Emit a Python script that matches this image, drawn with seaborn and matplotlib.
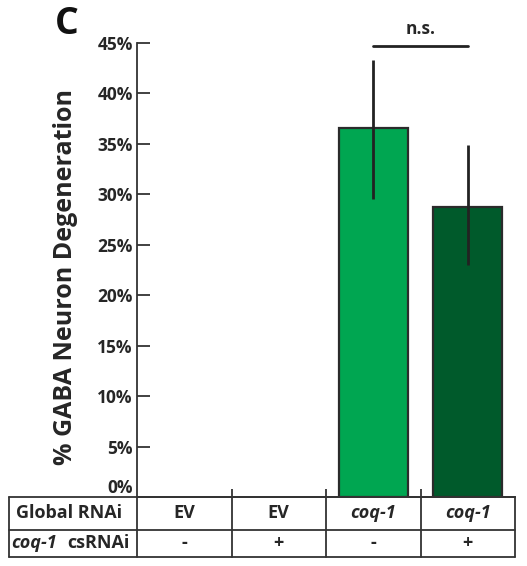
import matplotlib
matplotlib.use("Agg")
import matplotlib.pyplot as plt
import seaborn as sns
import pandas as pd

# ---- data ----
global_rnai = ["EV", "EV", "coq-1", "coq-1"]
global_italic = [False, False, True, True]
cs_rnai = ["-", "+", "-", "+"]
degeneration = [0.0, 0.0, 36.6, 28.7]
err_low = [0.0, 0.0, 29.5, 23.0]
err_high = [0.0, 0.0, 43.3, 34.9]
bar_colors = ["#00A651", "#00A651", "#00A651", "#005A2B"]
yticks = [0, 5, 10, 15, 20, 25, 30, 35, 40, 45]
ytick_labels = [f"{t}%" for t in yticks]
ns_pair = (2, 3)
ns_y = 44.7

TXT = "#262626"

sns.set_theme(style="white")
plt.rcParams['font.family'] = ['Open Sans', 'DejaVu Sans']
plt.rcParams['font.weight'] = 'bold'
plt.rcParams['text.color'] = TXT

fig = plt.figure(figsize=(5.27, 5.66), dpi=100)
W, H = 527, 566
ax = fig.add_axes([137 / W, 1 - 497 / H, 378 / W, 454 / H])

df = pd.DataFrame({"group": [f"g{i}" for i in range(len(degeneration))],
                   "value": degeneration})
sns.barplot(data=df, x="group", y="value", hue="group", palette=bar_colors,
            width=0.73, edgecolor="#2b2b2b", linewidth=1.6, errorbar=None,
            legend=False, ax=ax, saturation=1)
for p in ax.patches:
    if p.get_height() == 0:
        p.set_visible(False)

# error bars for non-zero bars
xs = [i for i, v in enumerate(degeneration) if v > 0]
ys = [degeneration[i] for i in xs]
lo = [degeneration[i] - err_low[i] for i in xs]
hi = [err_high[i] - degeneration[i] for i in xs]
ax.errorbar(xs, ys, yerr=[lo, hi], fmt='none', ecolor="#222222",
            elinewidth=2.0, capsize=0, zorder=5)

ax.set_xlim(-0.5, len(degeneration) - 0.5)
ax.set_ylim(0, 45)
ax.set_yticks(yticks)
ax.set_yticklabels(ytick_labels, fontsize=12.5, fontweight='bold', color=TXT)
ax.get_yticklabels()[0].set_verticalalignment('bottom')
ax.tick_params(axis='y', direction='in', length=9, width=1.3, color="#333333", pad=3, left=True)
ax.set_xticks([])
ax.set_xticks([i + 0.5 for i in range(len(degeneration) - 1)], minor=True)
ax.tick_params(axis='x', which='minor', direction='in', length=6, width=1.3,
               color="#333333", bottom=True)
ax.set_xlabel("")
for s in ["top", "right"]:
    ax.spines[s].set_visible(False)
for s in ["left", "bottom"]:
    ax.spines[s].set_color("#333333")
    ax.spines[s].set_linewidth(1.3)

ax.set_ylabel("% GABA Neuron Degeneration", fontsize=18, fontweight='bold', color=TXT)
ax.yaxis.set_label_coords(-0.155, 0.485)

# significance bracket
ax.plot(list(ns_pair), [ns_y, ns_y], color="#222222", lw=2, clip_on=False)
ax.text(sum(ns_pair) / 2, ns_y + 0.8, "n.s.", ha='center', va='bottom',
        fontsize=12.5, fontweight='bold', color=TXT, clip_on=False)

# table below the axes
tr = ax.get_xaxis_transform()
left = -0.5 - (137 - 9) / 94.5
right = len(degeneration) - 0.5
r1 = -33 / 454
r2 = -60 / 454
lc = "#333333"
for yy in [0, r1, r2]:
    ax.plot([left, right], [yy, yy], transform=tr, color=lc, lw=1.3, clip_on=False)
for xx in [left] + [i - 0.5 for i in range(len(degeneration) + 1)]:
    ax.plot([xx, xx], [0, r2], transform=tr, color=lc, lw=1.3, clip_on=False)

tfs = 13
ax.text(left + 7 / 94.5, r1 / 2, "Global RNAi", transform=tr, ha='left', va='center',
        fontsize=tfs, fontweight='bold', color=TXT)
ax.text(left + 2 / 94.5, (r1 + r2) / 2, "coq-1", transform=tr, ha='left', va='center',
        fontsize=tfs, fontweight='bold', style='italic', color=TXT)
ax.text(-0.5 - 8 / 94.5, (r1 + r2) / 2, "csRNAi", transform=tr, ha='right', va='center',
        fontsize=tfs, fontweight='bold', color=TXT)
for i, (g, it, c) in enumerate(zip(global_rnai, global_italic, cs_rnai)):
    ax.text(i, r1 / 2, g, transform=tr, ha='center', va='center', fontsize=tfs,
            fontweight='bold', style='italic' if it else 'normal', color=TXT)
    ax.text(i, (r1 + r2) / 2, c, transform=tr, ha='center', va='center', fontsize=tfs,
            fontweight='bold', color=TXT)

fig.text(67 / W, 1 - 24 / H, "C", fontsize=27, fontweight='bold', ha='center',
         va='center', color="#111111")

fig.savefig("out.png", dpi=100)
